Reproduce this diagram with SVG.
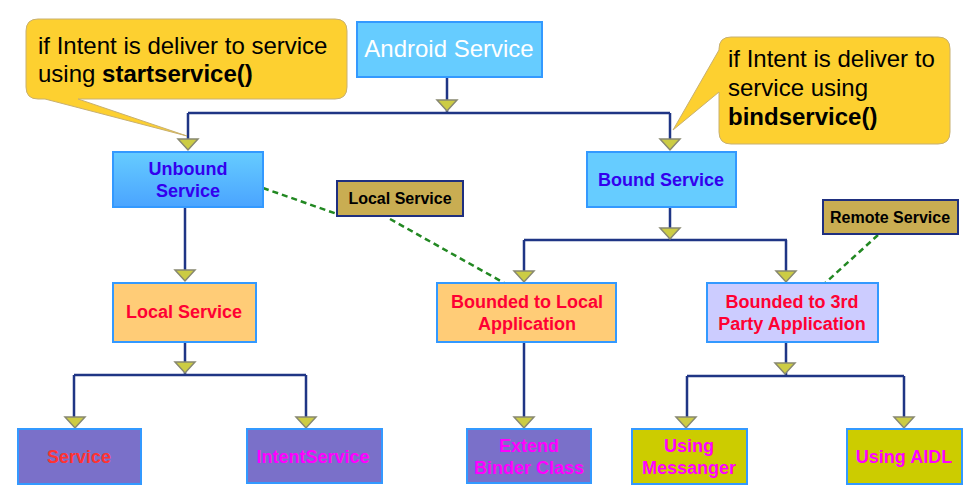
<svg xmlns="http://www.w3.org/2000/svg" width="980" height="502" viewBox="0 0 980 502">
<style>
  text { font-family: "Liberation Sans", Arial, sans-serif; }
  .box { stroke: #3399ff; stroke-width: 2; }
  .lbl { font-size: 18px; font-weight: bold; text-anchor: middle; }
  .call { fill: #fdd030; stroke: #c8b070; stroke-width: 1; }
  .ctext { font-size: 24px; fill: #000; }
  .tag { fill: #c9ad52; stroke: #1f2f7f; stroke-width: 2; }
  .tagt { font-size: 16px; font-weight: bold; fill: #000; text-anchor: middle; }
  .wire { fill: none; stroke: #1f3585; stroke-width: 2.5; }
  .dash { fill: none; stroke: #228822; stroke-width: 2.5; stroke-dasharray: 6 4; }
  .tri { fill: #cccc44; stroke: #888870; stroke-width: 1.5; }
</style>
<defs>
  <linearGradient id="gUnb" x1="0" y1="0" x2="0" y2="1">
    <stop offset="0" stop-color="#66ccff"/>
    <stop offset="1" stop-color="#4aa4ff"/>
  </linearGradient>
  <path id="arr" d="M-10,-11 L10,-11 L0,0 Z"/>
</defs>

<g id="connectors">
  <path class="wire" d="M447,77 V113 M188,113 H670 M188,113 V140 M670,113 V140"/>
  <path class="wire" d="M185,207 V270"/>
  <path class="wire" d="M185,342 V375 M74,375 H306 M74,375 V418 M306,375 V418"/>
  <path class="wire" d="M670,207 V240 M524,240 H787 M524,240 V272 M786,240 V272"/>
  <path class="wire" d="M524,342 V418"/>
  <path class="wire" d="M786,342 V376 M687,376 H904 M687,376 V418 M904,376 V418"/>
  <path class="dash" d="M263,188 L337,214"/>
  <path class="dash" d="M390,219 L506,284"/>
  <path class="dash" d="M878,235 L823,285"/>
  <use href="#arr" class="tri" x="447" y="111"/>
  <use href="#arr" class="tri" x="188" y="150"/>
  <use href="#arr" class="tri" x="670" y="150"/>
  <use href="#arr" class="tri" x="185" y="281"/>
  <use href="#arr" class="tri" x="185" y="373"/>
  <use href="#arr" class="tri" x="75" y="428"/>
  <use href="#arr" class="tri" x="306" y="428"/>
  <use href="#arr" class="tri" x="670" y="239"/>
  <use href="#arr" class="tri" x="524" y="282"/>
  <use href="#arr" class="tri" x="786" y="282"/>
  <use href="#arr" class="tri" x="524" y="428"/>
  <use href="#arr" class="tri" x="785" y="374"/>
  <use href="#arr" class="tri" x="686" y="428"/>
  <use href="#arr" class="tri" x="904" y="428"/>
</g>

<g id="callout-start">
  <path class="call" d="M38,19 H335 Q347,19 347,31 V87 Q347,99 335,99 H78 L187,136 L45,99 H38 Q26,99 26,87 V31 Q26,19 38,19 Z"/>
  <text class="ctext" x="38" y="54">if Intent is deliver to service</text>
  <text class="ctext" x="38" y="82">using <tspan font-weight="bold">startservice()</tspan></text>
</g>

<g id="callout-bind">
  <path class="call" d="M731,37 H938 Q950,37 950,49 V132 Q950,144 938,144 H731 Q719,144 719,132 V92 L673,130 L719,50 V49 Q719,37 731,37 Z"/>
  <text class="ctext" x="728" y="67">if Intent is deliver to</text>
  <text class="ctext" x="728" y="96">service using</text>
  <text class="ctext" x="728" y="125" font-weight="bold">bindservice()</text>
</g>

<g id="android-service">
  <rect class="box" x="357" y="22" width="185" height="55" fill="#66ccff"/>
  <text x="449" y="57" font-size="24" fill="#ffffff" text-anchor="middle">Android Service</text>
</g>

<g id="unbound-service">
  <rect class="box" x="113" y="152" width="150" height="55" fill="url(#gUnb)"/>
  <text class="lbl" x="188" y="175" fill="#3300ee">Unbound</text>
  <text class="lbl" x="188" y="197" fill="#3300ee">Service</text>
</g>

<g id="bound-service">
  <rect class="box" x="587" y="152" width="149" height="55" fill="#66ccff"/>
  <text class="lbl" x="661" y="186" fill="#3300ee">Bound Service</text>
</g>

<g id="local-service-tag">
  <rect class="tag" x="337" y="181" width="126" height="35"/>
  <text class="tagt" x="400" y="204">Local Service</text>
</g>

<g id="remote-service-tag">
  <rect class="tag" x="823" y="200" width="135" height="34"/>
  <text class="tagt" x="890" y="223">Remote Service</text>
</g>

<g id="local-service">
  <rect class="box" x="113" y="283" width="143" height="59" fill="#ffcc77"/>
  <text class="lbl" x="184" y="318" fill="#ff0033">Local Service</text>
</g>

<g id="bounded-local">
  <rect class="box" x="437" y="283" width="179" height="59" fill="#ffcc77"/>
  <text class="lbl" x="527" y="308" fill="#ff0033">Bounded to Local</text>
  <text class="lbl" x="527" y="330" fill="#ff0033">Application</text>
</g>

<g id="bounded-3rd">
  <rect class="box" x="707" y="283" width="171" height="59" fill="#ccccff"/>
  <text class="lbl" x="792" y="308" fill="#ff0033">Bounded to 3rd</text>
  <text class="lbl" x="792" y="330" fill="#ff0033">Party Application</text>
</g>

<g id="service">
  <rect class="box" x="18" y="429" width="123" height="55" fill="#7a70c9"/>
  <text class="lbl" x="79" y="463" fill="#ff3333">Service</text>
</g>

<g id="intent-service">
  <rect class="box" x="247" y="429" width="135" height="54" fill="#7a70c9"/>
  <text class="lbl" x="313" y="463" fill="#ff00ff">IntentService</text>
</g>

<g id="extend-binder">
  <rect class="box" x="467" y="429" width="124" height="54" fill="#7a70c9"/>
  <text class="lbl" x="529" y="452" fill="#ff00ff">Extend</text>
  <text class="lbl" x="529" y="474" fill="#ff00ff">Binder Class</text>
</g>

<g id="using-messanger">
  <rect class="box" x="632" y="429" width="115" height="55" fill="#cccc00"/>
  <text class="lbl" x="689" y="452" fill="#ff00ff">Using</text>
  <text class="lbl" x="689" y="474" fill="#ff00ff">Messanger</text>
</g>

<g id="using-aidl">
  <rect class="box" x="847" y="429" width="115" height="55" fill="#cccc00"/>
  <text class="lbl" x="904" y="463" fill="#ff00ff">Using AIDL</text>
</g>
</svg>
